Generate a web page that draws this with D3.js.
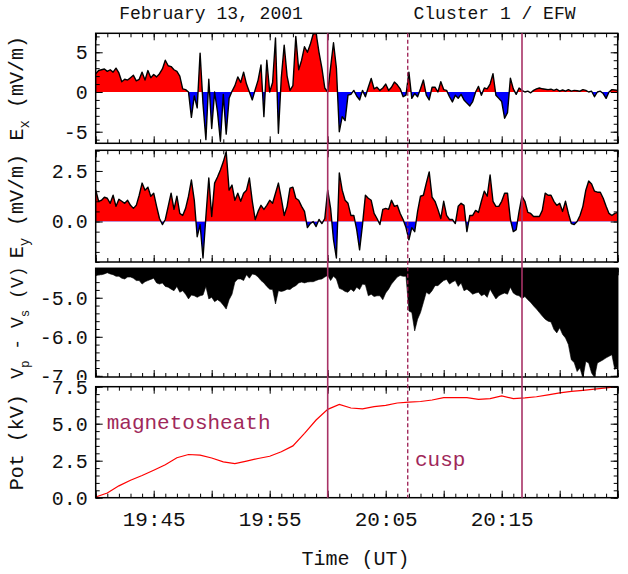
<!DOCTYPE html>
<html>
<head>
<meta charset="utf-8">
<script src="https://cdn.jsdelivr.net/npm/d3@7"></script>
<style>
  body { margin: 0; background: #fff; }
  text { font-family: "Liberation Mono", "Courier New", monospace; }
</style>
</head>
<body>
<div id="chart"></div>
<script>
// Cluster 1 / EFW overview plot, 13 Feb 2001
const width = 628;
const height = 574;

const title = "February 13, 2001";
const source = "Cluster 1 / EFW";
const startTime = new Date(Date.UTC(2001, 1, 13, 19, 40));
const endTime = new Date(Date.UTC(2001, 1, 13, 20, 25));
const sampleStep = 15; // seconds between ex / ey / vpvs samples
const potStep = 60;    // seconds between pot samples

// E_x (mV/m), one value every 15 s from 19:40
const ex = [
  2.3, 2.7, 2.8, 2.9, 2.6, 2.8, 2.5, 3.0, 2.4, 1.3,
  1.6, 1.5, 1.8, 2.1, 1.4, 1.6, 2.5, 1.5, 2.7, 1.8,
  2.2, 1.9, 2.3, 2.9, 4.0, 3.3, 3.2, 2.8, 2.6, 2.0,
  0.4, 0.3, 0.0, -3.2, -0.5, -2.0, 4.9, -1.5, -6.0, 1.6,
  -4.6, 0.0, -2.5, -6.2, -0.3, -5.3, -0.8, 0.1, 0.8, 1.9,
  1.2, 2.5, 1.0, 0.0, -1.0, 0.3, 1.5, 3.4, -3.1, 4.0,
  0.0, 1.2, 6.8, -5.2, 1.8, 5.9, 2.0, 0.2, 0.8, 7.0,
  2.8, 4.0, 5.7, 5.0, 6.0, 7.3, 7.4, 5.0, 3.0, 0.5,
  0.0, 3.1, 6.2, 3.0, -5.0, -3.1, -3.6, -0.4, -0.3, 0.2,
  -0.5, -1.0, 0.2, -0.6, 0.6, 1.7, 0.4, 0.6, 0.2, 0.5,
  1.0, 0.2, 0.6, 1.25, 0.9, 0.4, -0.6, -0.4, 2.5, -0.8,
  -0.2, -0.6, 0.4, 1.5, -0.4, -1.0, 0.6, 0.6, 0.0, 1.3,
  0.3, 0.2, -0.6, -1.25, -0.4, -0.8, -0.3, -1.0, -1.4, -1.75,
  -1.2, 0.0, 0.7, -0.4, 0.5, 0.4, 1.0, 2.3, -0.4, -0.8,
  -1.2, -3.3, -2.6, 1.75, 0.4, -0.3, 0.5, 0.2, 0.0, 0.1,
  -0.1, 0.2, 0.4, 0.5, 0.4, 0.35, 0.3, 0.35, 0.2, 0.35,
  0.1, 0.25, 0.1, 0.3, 0.1, 0.2, 0.15, 0.1, 0.3, 0.2,
  0.0, 0.1, -0.6, 0.0, 0.1, -0.2, -0.8, 0.0, 0.3, 0.25, 0.2
];

// E_y (mV/m)
const ey = [
  1.56, 1.0, 1.05, 1.2, 1.15, 0.9, 1.3, 0.75, 1.1, 1.0,
  0.9, 1.05, 0.8, 0.65, 0.8, 1.3, 1.9, 1.55, 1.7, 1.25,
  1.4, 0.75, 0.15, -0.15, 0.1, 0.75, 1.4, 0.6, 1.25, 0.4,
  0.3, 0.65, 1.25, 2.05, 1.05, -0.75, -0.15, -1.8, 0.25, 2.15,
  0.25, 1.9, 2.2, 2.55, 2.95, 3.45, 1.55, 1.8, 1.05, 1.4,
  1.0, 1.4, 1.55, 2.15, 1.0, 0.1, 0.5, 0.8, 0.6, 0.8,
  1.05, 0.9, 1.4, 1.9, 1.15, 0.3, 0.75, 1.65, 1.7, 1.15,
  1.05, 0.75, 0.5, -0.3, -0.1, 0.0, -0.25, 0.1, -0.1, 0.15,
  1.55, 0.65, -0.9, -1.8, 2.4, 1.55, 1.05, 0.9, 0.3, 0.3,
  -0.4, -1.4, -0.15, 1.3, 1.15, 1.05, 0.4, 0.15, -0.15, 0.6,
  0.65, 0.6, 1.05, 0.75, 0.8, 0.4, 0.1, -0.3, -0.9, -0.3,
  -0.5, 0.5, 1.25, 1.3, 1.9, 2.45, 1.2, 1.0, 0.6, 0.15,
  1.0, 0.3, 0.1, 0.1, -0.1, 0.75, 0.9, 0.8, -0.5, 0.3,
  0.3, 0.55, 0.45, 1.0, 1.5, 1.25, 2.3, 1.0, 0.75, 0.75,
  1.0, 1.4, 1.4, 0.1, -0.5, -0.4, 0.5, 1.25, 1.0, 0.45,
  0.4, 0.25, 0.25, 0.25, 0.55, 1.4, 1.3, 1.3, 1.0, 0.8,
  0.9, 0.5, 1.0, 0.4, -0.1, -0.15, 0.0, 0.3, 0.75, 1.55,
  2.0, 1.85, 1.5, 1.45, 1.45, 1.15, 0.75, 0.4, 0.3, 0.4, 0.45
];

// V_p - V_s (V)
const vpvs = [
  -4.43, -4.41, -4.41, -4.39, -4.36, -4.39, -4.41, -4.45, -4.45, -4.50,
  -4.52, -4.47, -4.47, -4.50, -4.56, -4.56, -4.65, -4.59, -4.56, -4.53,
  -4.50, -4.62, -4.65, -4.62, -4.71, -4.73, -4.78, -4.82, -4.71, -4.86,
  -4.82, -4.91, -5.03, -4.93, -4.95, -4.99, -4.95, -4.93, -4.71, -5.03,
  -4.99, -5.10, -5.05, -5.10, -5.19, -5.29, -5.05, -4.91, -4.60, -4.52,
  -4.52, -4.56, -4.41, -4.50, -4.39, -4.41, -4.47, -4.56, -4.62, -4.71,
  -4.78, -4.79, -5.16, -4.82, -4.84, -4.82, -4.78, -4.79, -4.73, -4.69,
  -4.62, -4.60, -4.62, -4.60, -4.59, -4.59, -4.56, -4.53, -4.52, -4.47,
  -4.43, -4.56, -4.45, -4.52, -4.76, -4.79, -4.84, -4.86, -4.78, -4.84,
  -4.73, -4.79, -4.65, -4.67, -4.95, -4.91, -4.97, -4.95, -4.95, -5.05,
  -4.88, -4.78, -4.65, -4.56, -4.47, -4.43, -4.45, -4.45, -5.34, -5.38,
  -5.85, -5.55, -5.38, -5.12, -4.86, -4.91, -4.82, -4.69, -4.69, -4.62,
  -4.56, -4.53, -4.65, -4.60, -4.56, -4.71, -4.62, -4.82, -4.78, -4.84,
  -4.91, -4.88, -4.86, -4.95, -4.91, -4.99, -4.78, -4.91, -5.03, -4.95,
  -4.91, -4.88, -4.91, -4.73, -4.88, -4.93, -4.95, -5.02, -4.97, -5.05,
  -5.12, -5.21, -5.29, -5.38, -5.47, -5.55, -5.60, -5.62, -5.81, -5.90,
  -5.77, -5.94, -6.03, -6.20, -6.59, -6.66, -6.89, -6.80, -7.06, -6.63,
  -6.67, -6.93, -7.04, -6.67, -6.63, -6.59, -6.54, -6.50, -6.46, -6.84, -6.76
];

// Pot (kV), one value per minute
const pot = [
  0.05, 0.32, 0.8, 1.18, 1.5, 1.85, 2.22, 2.7, 2.92, 2.88,
  2.68, 2.42, 2.3, 2.47, 2.65, 2.8, 3.1, 3.5, 4.35, 5.25,
  5.97, 6.3, 6.06, 6.0, 6.15, 6.24, 6.4, 6.46, 6.5, 6.6,
  6.76, 6.77, 6.76, 6.65, 6.7, 6.88, 6.7, 6.75, 6.82, 6.95,
  7.08, 7.18, 7.25, 7.33, 7.42, 7.5
];

// tick labels
const exTicks = [-5, 0, 5];
const eyTicks = [0, 2.5];
const vpTicks = [-7, -6, -5];
const potTicks = [0, 2.5, 5, 7.5];
const timeLabels = ["19:45", "19:55", "20:05", "20:15"];

// region boundaries (UT) and region names
const boundaryTimes = ["20:00:00", "20:06:54", "20:16:45"];
const regionNames = ["magnetosheath", "cusp"];

const parseUT = s => {
  const [h, m, sec] = s.split(":").map(Number);
  return new Date(Date.UTC(2001, 1, 13, h, m, sec || 0));
};
const tAt = (i, step) => new Date(+startTime + i * step * 1000);

const svg = d3.select("#chart").append("svg")
  .attr("width", width)
  .attr("height", height);
svg.append("rect").attr("width", width).attr("height", height).attr("fill", "#fff");
const defs = svg.append("defs");

const x = d3.scaleUtc().domain([startTime, endTime]).range([95.7, 617.7]);
const [x0, x1] = x.range();

const panels = [
  {name: "ex", values: ex, step: sampleStep, top: 33.3, bottom: 143.3, domain: [-6.46, 7.39], minor: 1, major: 5, ticks: exTicks, fmt: d => String(d), kind: "split",
   label: [["E"], ["x", "sub"], [" (mV/m)"]], size: 20},
  {name: "ey", values: ey, step: sampleStep, top: 150.3, bottom: 262, domain: [-2, 3.52], minor: 0.5, major: 2.5, ticks: eyTicks, fmt: d => d.toFixed(1), kind: "split",
   label: [["E"], ["y", "sub"], [" (mV/m)"]], size: 20},
  {name: "vp", values: vpvs, step: sampleStep, top: 268.3, bottom: 377, domain: [-7.03, -4.246], minor: 0.2, major: 1, ticks: vpTicks, fmt: d => d.toFixed(1), kind: "hang",
   label: [["V"], ["p", "sub"], [" - V"], ["s", "sub"], [" (V)"]], size: 18},
  {name: "pot", values: pot, step: potStep, top: 386.7, bottom: 497.7, domain: [0, 7.5], minor: 0.5, major: 2.5, ticks: potTicks, fmt: d => d.toFixed(1), kind: "line",
   label: [["Pot (kV)"]], size: 20}
];

// evenly spaced tick values inside the domain
const steps = (domain, s) => d3.range(Math.ceil(domain[0] / s - 1e-6), Math.floor(domain[1] / s + 1e-6) + 1).map(k => +(k * s).toFixed(4));

const noDomain = g => g.select(".domain").remove();

panels.forEach(p => {
  const y = d3.scaleLinear().domain(p.domain).range([p.bottom, p.top]);
  const g = svg.append("g");

  if (p.name === "pot") {
    // the last panel blanks out the lower half of the "-7.0" label above it
    g.append("rect").attr("x", 42).attr("y", 380).attr("width", 52).attr("height", 20).attr("fill", "#fff");
  }

  defs.append("clipPath").attr("id", `${p.name}-plot`)
    .append("rect").attr("x", x0).attr("y", p.top).attr("width", x1 - x0).attr("height", p.bottom - p.top);

  const px = (d, i) => x(tAt(i, p.step));

  if (p.kind === "split") {
    const zero = y(0);
    defs.append("clipPath").attr("id", `${p.name}-pos`)
      .append("rect").attr("x", x0).attr("y", p.top).attr("width", x1 - x0).attr("height", zero - p.top);
    defs.append("clipPath").attr("id", `${p.name}-neg`)
      .append("rect").attr("x", x0).attr("y", zero).attr("width", x1 - x0).attr("height", p.bottom - zero);
    const area = d3.area().x(px).y0(zero).y1(d => y(d));
    g.append("path").datum(p.values)
      .attr("clip-path", `url(#${p.name}-pos)`)
      .attr("fill", "#ff0000")
      .attr("d", area);
    g.append("path").datum(p.values)
      .attr("clip-path", `url(#${p.name}-neg)`)
      .attr("fill", "#0000ff")
      .attr("d", area);
    g.append("path").datum(p.values)
      .attr("clip-path", `url(#${p.name}-plot)`)
      .attr("fill", "none")
      .attr("stroke", "#000")
      .attr("stroke-width", 1.4)
      .attr("stroke-linejoin", "round")
      .attr("d", d3.line().x(px).y(d => y(d)));
  } else if (p.kind === "hang") {
    // probe-to-spacecraft potential is filled down from the top of the panel
    g.append("path").datum(p.values)
      .attr("clip-path", `url(#${p.name}-plot)`)
      .attr("fill", "#000")
      .attr("stroke", "#000")
      .attr("stroke-width", 0.6)
      .attr("d", d3.area().x(px).y0(p.top).y1(d => y(d)));
  } else {
    g.append("path").datum(p.values)
      .attr("clip-path", `url(#${p.name}-plot)`)
      .attr("fill", "none")
      .attr("stroke", "#ff0000")
      .attr("stroke-width", 1.2)
      .attr("d", d3.line().x(px).y(d => y(d)));
  }

  // ticks point inward on all four sides
  const minorT = d3.utcMinute.every(1).range(startTime, new Date(+endTime + 1));
  const majorT = d3.utcMinute.every(5).range(startTime, new Date(+endTime + 1));
  const minorY = steps(p.domain, p.minor);
  const majorY = steps(p.domain, p.major);
  const tickSets = [
    [d3.axisBottom(x).tickValues(minorT).tickSize(-4), `translate(0,${p.bottom})`],
    [d3.axisBottom(x).tickValues(majorT).tickSize(-7), `translate(0,${p.bottom})`],
    [d3.axisTop(x).tickValues(minorT).tickSize(-4), `translate(0,${p.top})`],
    [d3.axisTop(x).tickValues(majorT).tickSize(-7), `translate(0,${p.top})`],
    [d3.axisLeft(y).tickValues(minorY).tickSize(-4), `translate(${x0},0)`],
    [d3.axisLeft(y).tickValues(majorY).tickSize(-7), `translate(${x0},0)`],
    [d3.axisRight(y).tickValues(minorY).tickSize(-4), `translate(${x1},0)`],
    [d3.axisRight(y).tickValues(majorY).tickSize(-7), `translate(${x1},0)`]
  ];
  tickSets.forEach(([axis, tr]) => {
    g.append("g").attr("transform", tr)
      .call(axis.tickFormat("").tickSizeOuter(0))
      .call(noDomain)
      .selectAll("line").attr("stroke", "#000").attr("stroke-width", 1);
  });

  // frame
  g.append("rect")
    .attr("x", x0).attr("y", p.top)
    .attr("width", x1 - x0).attr("height", p.bottom - p.top)
    .attr("fill", "none")
    .attr("stroke", "#000")
    .attr("stroke-width", 1.5);

  // y tick labels
  g.append("g").attr("transform", `translate(${x0},0)`)
    .call(d3.axisLeft(y).tickValues(p.ticks).tickSize(0).tickPadding(8).tickFormat(p.fmt))
    .call(noDomain)
    .call(a => a.selectAll("text")
      .attr("font-family", "Liberation Mono")
      .attr("font-size", 20)
      .attr("fill", "#111"));

  // rotated axis title with subscripts
  const lbl = svg.append("text")
    .attr("transform", `translate(28.5,${(p.top + p.bottom) / 2}) rotate(-90)`)
    .attr("text-anchor", "middle")
    .attr("font-size", p.size)
    .attr("fill", "#111");
  p.label.forEach(([s, kind]) => {
    if (kind === "sub") {
      lbl.append("tspan").attr("font-size", p.size * 0.7).attr("dy", 6).text(s);
    } else {
      lbl.append("tspan").attr("dy", lbl.selectAll("tspan").size() ? -6 : 0).text(s);
    }
  });
});

// time labels under the last panel
const last = panels[panels.length - 1];
svg.append("g").attr("transform", `translate(0,${last.bottom})`)
  .call(d3.axisBottom(x).tickValues(timeLabels.map(parseUT)).tickSize(0).tickPadding(13.4).tickFormat(d3.utcFormat("%H:%M")))
  .call(noDomain)
  .call(a => a.selectAll("text")
    .attr("font-family", "Liberation Mono")
    .attr("font-size", 21)
    .attr("fill", "#111"));

svg.append("text")
  .attr("x", 355.5).attr("y", 565)
  .attr("text-anchor", "middle")
  .attr("font-size", 20)
  .attr("fill", "#111")
  .text("Time (UT)");

// titles
svg.append("text").attr("x", 211).attr("y", 19.3).attr("text-anchor", "middle")
  .attr("font-size", 18).attr("fill", "#111").text(title);
svg.append("text").attr("x", 494.5).attr("y", 19.3).attr("text-anchor", "middle")
  .attr("font-size", 18).attr("fill", "#111").text(source);

// region names in the potential panel
svg.append("text").attr("x", 106.7).attr("y", 428.5)
  .attr("font-size", 21).attr("fill", "#a0285a").text(regionNames[0]);
svg.append("text").attr("x", 415).attr("y", 465.5)
  .attr("font-size", 21).attr("fill", "#a0285a").text(regionNames[1]);

// boundary markers across all panels
boundaryTimes.map(parseUT).forEach((t, i) => {
  svg.append("line")
    .attr("x1", x(t)).attr("x2", x(t))
    .attr("y1", panels[0].top).attr("y2", last.bottom)
    .attr("stroke", i === 1 ? "#9b1b50" : "#a83266")
    .attr("stroke-width", i === 1 ? 1.3 : 1.6)
    .attr("stroke-dasharray", i === 1 ? "4,2.5" : null);
});
</script>
</body>
</html>
